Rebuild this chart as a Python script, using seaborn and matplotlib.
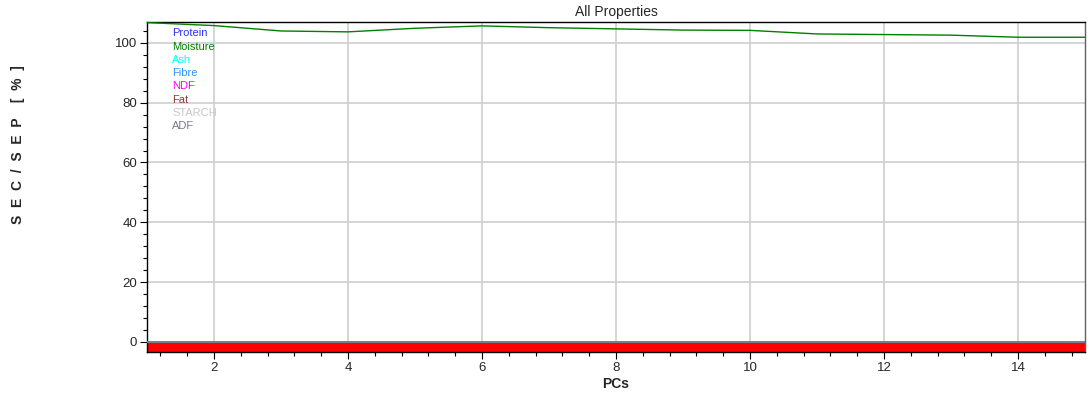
import matplotlib
matplotlib.use("Agg")
import matplotlib.pyplot as plt
from matplotlib.ticker import MultipleLocator
import numpy as np
import pandas as pd
import seaborn as sns

# Number of principal components
pcs = [1, 2, 3, 4, 5, 6, 7, 8, 9, 10, 11, 12, 13, 14, 15]

# SEC/SEP ratio per property [%]
moisture = [106.8, 105.8, 104.0, 103.7, 104.9, 105.7, 105.1, 104.7, 104.3, 104.2,
            103.0, 102.8, 102.6, 101.9, 101.9]
protein = [0.0] * 15
ash = [0.0] * 15
fibre = [0.0] * 15
ndf = [0.0] * 15
fat = [0.0] * 15
starch = [0.0] * 15
adf = [0.0] * 15

properties = ["Protein", "Moisture", "Ash", "Fibre", "NDF", "Fat", "STARCH", "ADF"]
colors = ["#3030ff", "#008000", "#00ffff", "#2f8fff", "#ff00ff", "#8b3a3a", "#c8c8c8", "#7a7a8a"]

series = [protein, moisture, ash, fibre, ndf, fat, starch, adf]
df = pd.DataFrame({
    "PCs": pcs * len(properties),
    "value": sum(series, []),
    "property": sum([[p] * len(pcs) for p in properties], []),
})

sns.set_theme(style="white")
plt.rcParams["font.family"] = ["Liberation Sans", "DejaVu Sans"]

fig = plt.figure(figsize=(10.92, 3.98), dpi=100)
ax = fig.add_axes([147 / 1092, 46 / 398, 938 / 1092, 330 / 398])

ymin, ymax = -3.4, 107.0

# red band below the zero baseline
ax.fill_between(pcs, [ymin] * len(pcs), adf, color="#ff0000", lw=0, zorder=2)

draw_order = ["Protein", "Ash", "Fibre", "NDF", "Fat", "STARCH", "Moisture", "ADF"]
for prop in draw_order:
    sub = df[df["property"] == prop]
    sns.lineplot(data=sub, x="PCs", y="value", ax=ax, color=colors[properties.index(prop)],
                 lw=1.0 if prop == "Moisture" else 1.4, legend=False, zorder=3)

ax.set_xlim(1, 15)
ax.set_ylim(ymin, ymax)
ax.xaxis.set_major_locator(MultipleLocator(2))
ax.xaxis.set_minor_locator(MultipleLocator(0.4))
ax.yaxis.set_major_locator(MultipleLocator(20))
ax.yaxis.set_minor_locator(MultipleLocator(4))
ax.grid(True, which="major", color="#d2d2d2", lw=1.3, zorder=0)
ax.set_axisbelow(True)

ax.tick_params(which="major", direction="out", length=5, width=0.8, color="black",
               labelsize=9.5, pad=2, bottom=True, left=True)
ax.tick_params(which="minor", direction="out", length=3, width=0.8, color="black",
               bottom=True, left=True)
for side in ["left", "bottom", "top"]:
    ax.spines[side].set_color("black")
    ax.spines[side].set_linewidth(1.0)
ax.spines["right"].set_color("#606060")
ax.spines["right"].set_linewidth(1.0)

ax.set_title("All Properties", fontsize=10, pad=4)
ax.set_xlabel("PCs", fontsize=10, fontweight="bold", labelpad=2)
ax.set_ylabel("")
fig.text(18 / 1092, 1 - 145 / 398, "S  E  C  /  S  E  P    [  %  ]", rotation=90,
         ha="center", va="center", fontsize=10, fontweight="bold")

# property names stacked in the upper-left corner
for i, prop in enumerate(properties):
    ax.text(0.027, 0.966 - i * 13.3 / 330, prop, transform=ax.transAxes,
            color=colors[i], fontsize=8, va="center", ha="left", zorder=5)

fig.savefig("out.png", dpi=100)
